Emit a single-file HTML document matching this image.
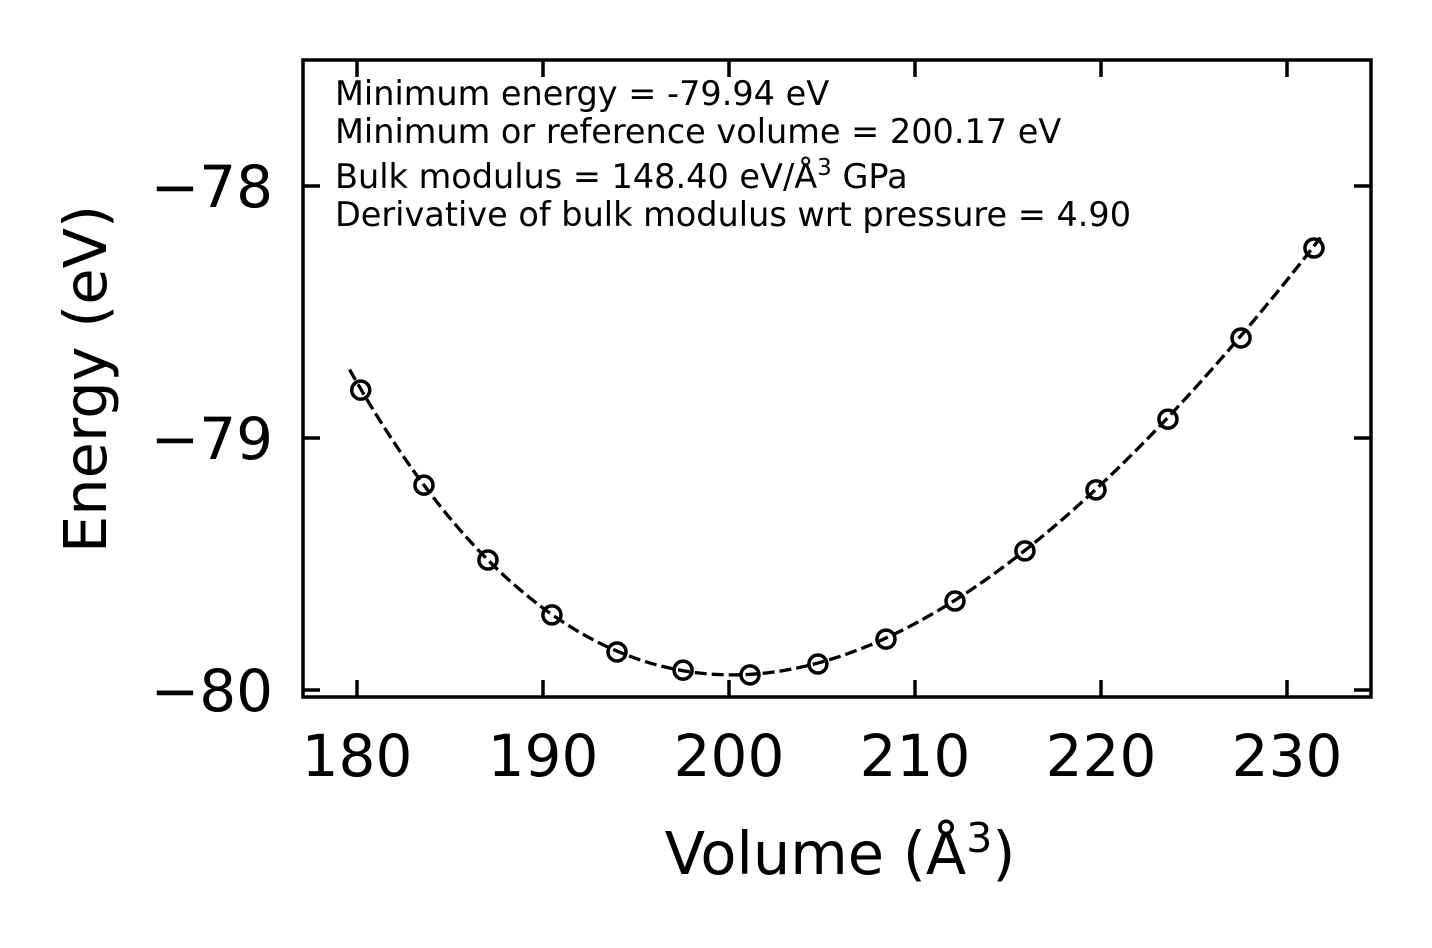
<!DOCTYPE html>
<html><head><meta charset="utf-8"><style>
body{margin:0;background:#fff}
text{font-family:"DejaVu Sans","Liberation Sans",sans-serif;fill:#000}
</style></head><body>
<svg id="chart" width="1432" height="943" xmlns="http://www.w3.org/2000/svg">
<g id="plot"></g>
</svg>
<script>
const volumes=[180.2,183.6,187.04,190.48,193.98,197.53,201.13,204.78,208.44,212.15,215.91,219.73,223.60,227.53,231.45];
const energies=[-78.81,-79.187,-79.484,-79.702,-79.849,-79.921,-79.940,-79.897,-79.798,-79.647,-79.448,-79.206,-78.925,-78.603,-78.246];
const xTicks=[180,190,200,210,220,230];
const yTicks=[-78,-79,-80];
const fitParams=[-79.94,200.17,148.40,4.90]; // E0, V0, B (GPa), B'
const fitRange=[179.6,231.8];

const L=303,R=1371,T=60,B=697;
const sx=v=>357+(v-180)*18.6;
const sy=e=>186-(e+78)*252;
const ns="http://www.w3.org/2000/svg";
const g=document.getElementById('plot');
function mk(tag,attrs,parent){const el=document.createElementNS(ns,tag);for(const k in attrs)el.setAttribute(k,attrs[k]);(parent||g).appendChild(el);return el;}

const [E0,V0,Bg,Bp]=fitParams;const Bv=Bg/160.21766;
function bm(V){const eta=Math.pow(V0/V,2/3);const d=eta-1;return E0+9*V0*Bv/16*(d*d*d*Bp+d*d*(6-4*eta));}
let pts=[];for(let i=0;i<=200;i++){const v=fitRange[0]+(fitRange[1]-fitRange[0])*i/200;pts.push(sx(v).toFixed(2)+','+sy(bm(v)).toFixed(2));}
const fit=mk('polyline',{points:pts.join(' '),fill:'none',stroke:'#000','stroke-width':3.3,'stroke-dasharray':'12,5'});



volumes.forEach((v,i)=>{
 const c=mk('circle',{cx:sx(v),cy:sy(energies[i]),r:9,fill:'none',stroke:'#000','stroke-width':3.5});
 
 
});

const fr=mk('rect',{x:L,y:T,width:R-L,height:B-T,fill:'none',stroke:'#000','stroke-width':3.5});



xTicks.forEach(t=>{
 const x=sx(t);
 mk('line',{x1:x,x2:x,y1:B,y2:B-17,stroke:'#000','stroke-width':3.5});
 mk('line',{x1:x,x2:x,y1:T,y2:T+17,stroke:'#000','stroke-width':3.5});
 const tx=mk('text',{x:x,y:776,'font-size':58,'text-anchor':'middle'});
 tx.textContent=t;
 
 
});
yTicks.forEach(t=>{
 const y=sy(t);
 mk('line',{x1:L,x2:L+17,y1:y,y2:y,stroke:'#000','stroke-width':3.5});
 mk('line',{x1:R,x2:R-17,y1:y,y2:y,stroke:'#000','stroke-width':3.5});
 const tx=mk('text',{x:273,y:y+21,'font-size':58,'text-anchor':'end'});
 tx.textContent='\u2212'+Math.abs(t);
 
 
});
</script>
<svg width="1432" height="943" style="position:absolute;left:0;top:0" xmlns="http://www.w3.org/2000/svg">
<text x="840" y="874" font-size="59" text-anchor="middle">Volume (Å<tspan font-size="41" dy="-22">3</tspan><tspan dy="22">)</tspan></text>
<text transform="translate(106,379) rotate(-90)" font-size="59" text-anchor="middle">Energy (eV)</text>
<g font-size="33.5">
<text x="335" y="105">Minimum energy = -79.94 eV</text>
<text x="335" y="143">Minimum or reference volume = 200.17 eV</text>
<text x="335" y="188">Bulk modulus = 148.40 eV/Å<tspan font-size="23" dy="-13">3</tspan><tspan dy="13"> GPa</tspan></text>
<text x="335" y="226">Derivative of bulk modulus wrt pressure = 4.90</text>
</g>
</svg>
</body></html>
